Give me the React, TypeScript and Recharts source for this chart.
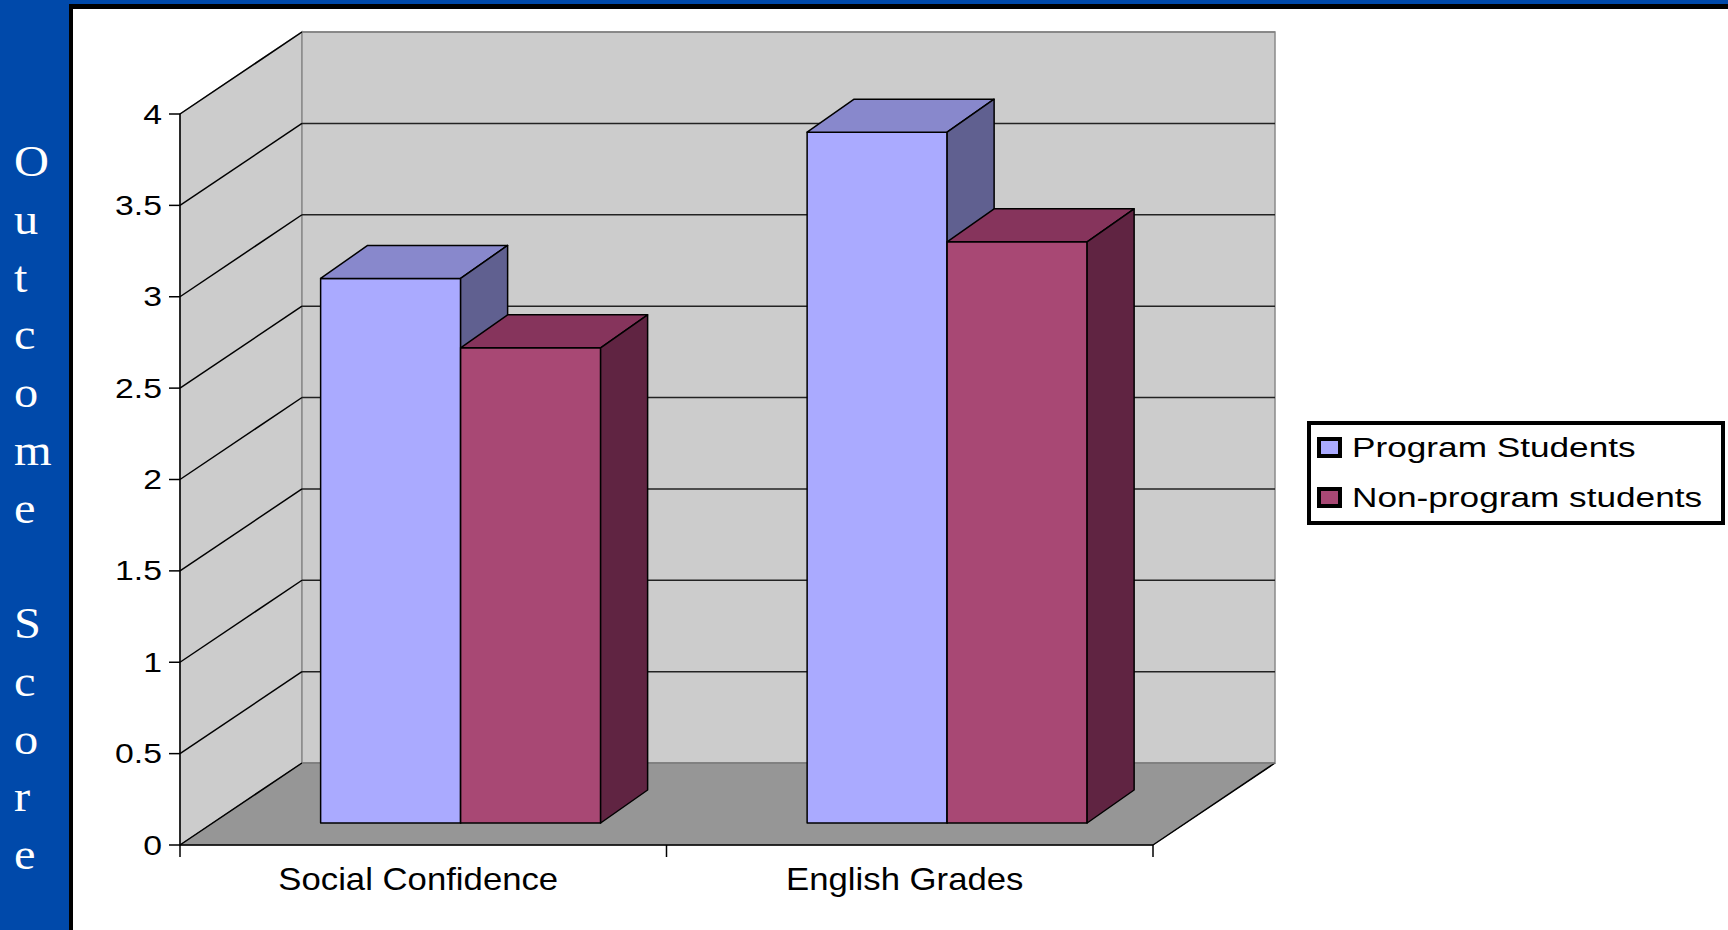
import { BarChart, Bar, XAxis, YAxis, ReferenceArea, ReferenceLine, Legend } from 'recharts';

// chart values
const categories = ['Social Confidence', 'English Grades'];
const programStudents = [2.98, 3.78];
const nonProgramStudents = [2.6, 3.18];
const seriesNames = ['Program Students', 'Non-program students'];
const yTicks = [0, 0.5, 1, 1.5, 2, 2.5, 3, 3.5, 4];
const axisTitle = 'Outcome Score';

const data = categories.map((name, i) => ({
    name,
    program: programStudents[i],
    nonProgram: nonProgramStudents[i],
}));

// fake 3d: depth of the walls, where the bars stand, and the depth of a bar
const WALL_DX = 122;
const WALL_DY = -82;
const BAR_SHIFT_X = 37;
const BAR_SHIFT_Y = -22;
const BAR_DX = 47;
const BAR_DY = -33;

const FACES = {
    program: { front: '#AAAAFF', top: '#8888CC', side: '#606090' },
    nonProgram: { front: '#A84874', top: '#86345C', side: '#602442' },
};

const SANS = '"Liberation Sans", Arial, sans-serif';
const pts = (arr: number[][]) => arr.map(p => p.join(',')).join(' ');

const makeBox = (faces: { front: string; top: string; side: string }) => (props: any) => {
    const { x, y, width, height } = props;
    if (width == null || height == null) return <g />;
    const fx = x + BAR_SHIFT_X;
    const fy = y + BAR_SHIFT_Y;
    const w = width;
    const h = height;
    return (
        <g stroke="#000" strokeWidth={1.5} strokeLinejoin="round">
            <rect x={fx} y={fy} width={w} height={h} fill={faces.front} />
            <polygon
                points={pts([[fx, fy], [fx + BAR_DX, fy + BAR_DY], [fx + w + BAR_DX, fy + BAR_DY], [fx + w, fy]])}
                fill={faces.top}
            />
            <polygon
                points={pts([[fx + w, fy], [fx + w + BAR_DX, fy + BAR_DY], [fx + w + BAR_DX, fy + h + BAR_DY], [fx + w, fy + h]])}
                fill={faces.side}
            />
        </g>
    );
};

// side wall, back wall and floor, drawn from the plot rectangle
const Walls = (props: any) => {
    const { x, y, width, height } = props;
    const b = y + height;
    const r = x + width;
    return (
        <g>
            <polygon
                points={pts([[x, y], [x + WALL_DX, y + WALL_DY], [x + WALL_DX, b + WALL_DY], [x, b]])}
                fill="#cccccc" stroke="#8a8a8a" strokeWidth={1.5}
            />
            <rect x={x + WALL_DX} y={y + WALL_DY} width={width} height={height} fill="#cccccc" stroke="#8a8a8a" strokeWidth={1.5} />
            <polygon
                points={pts([[x, b], [x + WALL_DX, b + WALL_DY], [r + WALL_DX, b + WALL_DY], [r, b]])}
                fill="#969696" stroke="#6a6a6a" strokeWidth={1}
            />
            <line x1={r} y1={b} x2={r + WALL_DX} y2={b + WALL_DY} stroke="#000" strokeWidth={1.5} />
        </g>
    );
};

const makeGridLine = (v: number) => (props: any) => {
    const { x1, y1, x2, y2 } = props;
    const edge = v === yTicks[0] || v === yTicks[yTicks.length - 1];
    return (
        <g>
            <line x1={x1} y1={y1} x2={x1 + WALL_DX} y2={y1 + WALL_DY} stroke="#000" strokeWidth={1.5} />
            <line
                x1={x1 + WALL_DX} y1={y1 + WALL_DY} x2={x2 + WALL_DX} y2={y2 + WALL_DY}
                stroke={edge ? '#808080' : '#222'} strokeWidth={1.5}
            />
        </g>
    );
};

const ValueTick = (props: any) => {
    const { x, y, payload } = props;
    return (
        <text
            transform={`translate(${x},${y + 9.5}) scale(1.25,1)`}
            textAnchor="end" fontSize={27} fontFamily={SANS} fill="#000"
        >
            {payload.value}
        </text>
    );
};

const CategoryTick = (props: any) => {
    const { x, y, payload, index, visibleTicksCount, width } = props;
    const half = payload.offset || width / visibleTicksCount / 2;
    return (
        <g>
            <line x1={x - half} y1={y} x2={x - half} y2={y + 12} stroke="#000" strokeWidth={1.5} />
            {index === visibleTicksCount - 1 && (
                <line x1={x + half} y1={y} x2={x + half} y2={y + 12} stroke="#000" strokeWidth={1.5} />
            )}
            <text
                transform={`translate(${x - 5},${y + 45}) scale(1.12,1)`}
                textAnchor="middle" fontSize={31} fontFamily={SANS} fill="#000"
            >
                {payload.value}
            </text>
        </g>
    );
};

const TitleLabel = () => (
    <g>
        {axisTitle.split('').map((ch, i) => (
            <text
                key={i}
                transform={`translate(14,${176 + i * 57.75}) scale(1.1,1)`}
                fontSize={44} fontFamily='"Liberation Serif", "Times New Roman", serif' fill="#fff"
            >
                {ch}
            </text>
        ))}
    </g>
);

const LegendBox = (props: any) => {
    const payload = [...(props.payload || [])].sort(
        (a: any, b: any) => seriesNames.indexOf(a.value) - seriesNames.indexOf(b.value)
    );
    return (
        <svg width={418} height={104} style={{ display: 'block' }}>
            <rect x={2} y={2} width={414} height={100} fill="#fff" stroke="#000" strokeWidth={4} />
            {payload.map((entry: any, i: number) => (
                <g key={i}>
                    <rect x={12} y={18 + i * 50} width={21} height={17} fill={entry.color} stroke="#000" strokeWidth={4} />
                    <text
                        transform={`translate(45,${36 + i * 50}) scale(1.28,1)`}
                        fontSize={27.5} fontFamily={SANS} fill="#000"
                    >
                        {entry.value}
                    </text>
                </g>
            ))}
        </svg>
    );
};

const App = () => {
    return (
        <div style={{ position: 'absolute', left: 0, top: 0, width: 1728, height: 930, overflow: 'hidden', background: '#0049AA' }}>
            <div style={{ position: 'absolute', left: 69, top: 4, right: 0, bottom: 0, background: '#000' }} />
            <div style={{ position: 'absolute', left: 73, top: 9, right: 0, bottom: 0, background: '#fff' }} />
            <div style={{ position: 'absolute', left: 0, top: 0 }}>
                <BarChart
                    width={1728}
                    height={930}
                    data={data}
                    margin={{ top: 114, right: 575, bottom: 25, left: 80 }}
                    barCategoryGap="21.3%"
                    barGap={0}
                    style={{ fontFamily: SANS }}
                >
                    <ReferenceArea y1={0} y2={4} shape={Walls} zIndex={-200} />
                    {yTicks.map(v => (
                        <ReferenceLine key={v} y={v} shape={makeGridLine(v)} zIndex={-150} />
                    ))}
                    <XAxis
                        dataKey="name"
                        height={60}
                        tickLine={false}
                        tickSize={0}
                        tickMargin={0}
                        axisLine={{ stroke: '#000', strokeWidth: 1.5 }}
                        tick={CategoryTick}
                        interval={0}
                    />
                    <YAxis
                        type="number"
                        domain={[0, 4]}
                        ticks={yTicks}
                        interval={0}
                        width={100}
                        tickSize={11}
                        tickMargin={7}
                        axisLine={{ stroke: '#000', strokeWidth: 1.5 }}
                        tickLine={{ stroke: '#000', strokeWidth: 1.5 }}
                        tick={ValueTick}
                        label={<TitleLabel />}
                    />
                    <Legend
                        layout="horizontal"
                        verticalAlign="middle"
                        align="center"
                        content={LegendBox}
                        wrapperStyle={{ left: 1307, top: 421, width: 418, height: 104 }}
                    />
                    <Bar
                        dataKey="program"
                        name={seriesNames[0]}
                        fill={FACES.program.front}
                        shape={makeBox(FACES.program)}
                        isAnimationActive={false}
                    />
                    <Bar
                        dataKey="nonProgram"
                        name={seriesNames[1]}
                        fill={FACES.nonProgram.front}
                        shape={makeBox(FACES.nonProgram)}
                        isAnimationActive={false}
                    />
                </BarChart>
            </div>
        </div>
    );
};

export default App;
